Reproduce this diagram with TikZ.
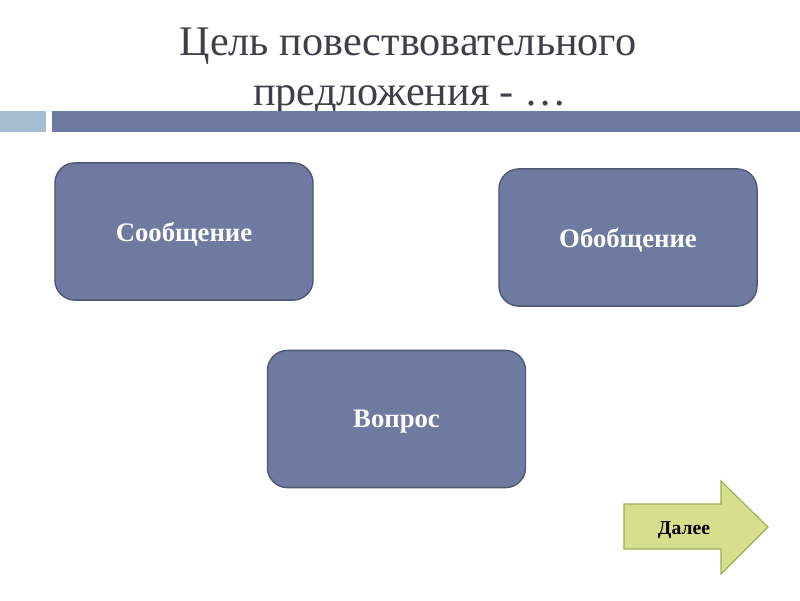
\documentclass[tikz,border=0pt]{standalone}
\usepackage{fontspec}
\setmainfont{Liberation Serif}
\definecolor{boxfill}{HTML}{6E7A9F}
\definecolor{boxline}{HTML}{4F5875}
\definecolor{lightbar}{HTML}{A5BDD1}
\definecolor{darkbar}{HTML}{6F7A9F}
\definecolor{nextfill}{HTML}{D6E08C}
\definecolor{nextline}{HTML}{9BAF52}
\definecolor{titlegray}{HTML}{3F3F4C}
\tikzset{
  answer/.style={rectangle, draw=boxline, fill=boxfill, line width=1pt, rounded corners=0.5cm,
    minimum width=6.45cm, minimum height=3.43cm, inner sep=0pt, text depth=0pt,
    text=white, font=\fontsize{19}{22}\selectfont\bfseries},
  titleline/.style={anchor=base, text=titlegray, inner sep=0pt, font=\fontsize{30}{35}\selectfont},
  nextarrow/.style={draw=nextline, fill=nextfill, line width=0.8pt, line join=miter}
}
\begin{document}
\begin{tikzpicture}[x=0.025cm, y=-0.025cm]
  \useasboundingbox (0,0) rectangle (800,600);
  \node[titleline] (title1) at (408,55) {Цель повествовательного};
  \node[titleline] (title2) at (410,105) {предложения - …};

  \fill[lightbar] (0,111) rectangle (46,132);
  \fill[darkbar] (52,111) rectangle (800,132);

  \node[answer] (message) at (184,231.5) {Сообщение};
  \node[answer] (summary) at (628,237.5) {Обобщение};
  \node[answer] (question) at (396.5,419) {Вопрос};

  \draw[nextarrow] (624,504) -- (721,504) -- (721,481) -- (768,527)
    -- (721,574) -- (721,549) -- (624,549) -- cycle;
  \node[font=\fontsize{14}{16}\selectfont\bfseries, text depth=0pt] (next) at (684,528) {Далее};
\end{tikzpicture}
\end{document}
